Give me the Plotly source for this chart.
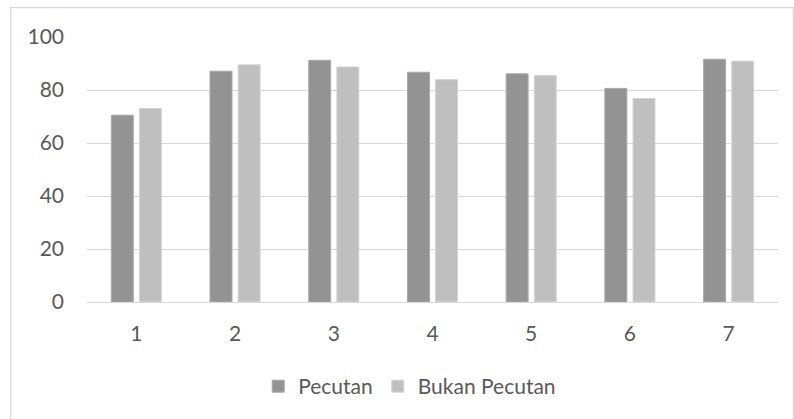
import plotly.graph_objects as go

categories = ["1", "2", "3", "4", "5", "6", "7"]
pecutan = [70.5, 87.1, 91.2, 86.7, 86.1, 80.6, 91.6]
bukan_pecutan = [73.0, 89.5, 88.7, 83.9, 85.5, 76.8, 90.9]
y_ticks = [0, 20, 40, 60, 80, 100]

FONT = "Lato"
TXT = "#595959"
FS = 21

fig = go.Figure()
fig.add_trace(go.Bar(x=categories, y=pecutan, name="Pecutan",
                     marker=dict(color="#939393", line=dict(color="#a8a8a8", width=1))))
fig.add_trace(go.Bar(x=categories, y=bukan_pecutan, name="Bukan Pecutan",
                     marker=dict(color="#bfbfbf", line=dict(color="#d4d4d4", width=1))))

fig.update_layout(
    width=794, height=419,
    margin=dict(l=87, r=16, t=37, b=117),
    paper_bgcolor="white", plot_bgcolor="white",
    barmode="group", bargap=0.43, bargroupgap=0.22,
    font=dict(family=FONT, size=FS, color=TXT),
    showlegend=True,
    legend=dict(orientation="h", x=0.467, xanchor="center", y=-0.319, yanchor="middle",
                font=dict(family=FONT, size=FS, color=TXT), itemwidth=30,
                traceorder="normal"),
    xaxis=dict(showgrid=False, showline=False, zeroline=False, ticks="",
               ticklabelstandoff=17, tickfont=dict(family=FONT, size=FS, color=TXT)),
    yaxis=dict(range=[0, 100], tickvals=y_ticks, showgrid=True, gridcolor="#d9d9d9",
               gridwidth=1.3, zeroline=True, zerolinecolor="#d9d9d9", zerolinewidth=1.3,
               showline=False, ticks="", ticklabelstandoff=22,
               tickfont=dict(family=FONT, size=FS, color=TXT)),
    shapes=[dict(type="rect", xref="paper", yref="paper",
                 x0=-0.1105, x1=1.0222, y0=-0.47, y1=1.1107,
                 line=dict(color="#d9d9d9", width=1.3), fillcolor="rgba(0,0,0,0)",
                 layer="below")],
)

fig.write_html("out.html",
               config={"displayModeBar": False},
               post_script="document.body.style.margin='0';document.body.style.padding='0';"
                           "document.documentElement.style.overflow='hidden';")
